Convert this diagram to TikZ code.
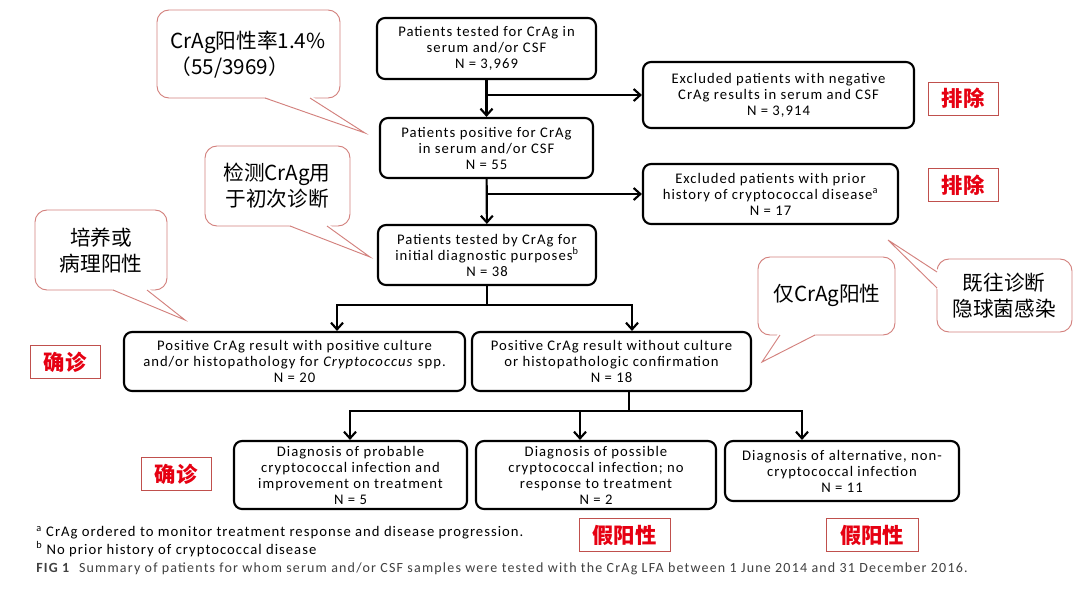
\documentclass[tikz,border=0pt]{standalone}
\usepackage{fontspec}
\setmainfont{Carlito}[LetterSpace=7]
\newfontfamily\cjk{Noto Sans CJK SC}
\usetikzlibrary{positioning, calc, arrows.meta}

\tikzset{
  caixa/.style={draw, line width=1.6pt, rounded corners=6pt, align=center, inner sep=1pt, font=\fontsize{11}{12}\selectfont},
  seta/.style={line width=1.6pt, -{Straight Barb[length=5pt, width=9pt, line width=1.6pt]}},
  linha/.style={line width=1.6pt},
  rotulo/.style={draw=tagborda, line width=0.7pt, text=vermelho, minimum height=33*0.75pt, inner sep=0pt, font=\cjk\bfseries\fontsize{16}{16}\selectfont},
  balao/.style={draw=balaoborda, line width=0.7pt, fill=white, rounded corners=9pt},
  balaotexto/.style={align=center, inner sep=0pt, font=\cjk\fontsize{15.5}{19.5}\selectfont},
  nota/.style={anchor=west, inner sep=0pt, font=\fontsize{11}{12}\selectfont},
}

\begin{document}
\begin{tikzpicture}[x=0.75pt, y=-0.75pt]
% --- CORES E AREA DO DESENHO ---
\definecolor{balaoborda}{HTML}{D3817D}
\definecolor{tagborda}{HTML}{C0504D}
\definecolor{vermelho}{HTML}{E60012}
\definecolor{cinza}{HTML}{404040}
\fill[white] (0,0) rectangle (1080,594);
\useasboundingbox (0,0) rectangle (1080,594);

% LAYER 1: Caixas do fluxograma
\node[caixa, minimum width=219*0.75pt, minimum height=61*0.75pt] (b1) at (486.5,48.5) {Patients tested for CrAg in\\serum and/or CSF\\N = 3,969};
\node[caixa, minimum width=213*0.75pt, minimum height=60*0.75pt] (b2) at (486.5,148) {Patients positive for CrAg\\in serum and/or CSF\\N = 55};
\node[caixa, minimum width=218*0.75pt, minimum height=60*0.75pt] (b3) at (487,255) {Patients tested by CrAg for\\initial diagnostic purposes\textsuperscript{b}\\N = 38};
\node[caixa, minimum width=271*0.75pt, minimum height=66*0.75pt] (e1) at (778.5,95) {Excluded patients with negative\\CrAg results in serum and CSF\\N = 3,914};
\node[caixa, minimum width=255*0.75pt, minimum height=60*0.75pt] (e2) at (770.5,194) {Excluded patients with prior\\history of cryptococcal disease\textsuperscript{a}\\N = 17};
\node[caixa, minimum width=341*0.75pt, minimum height=59*0.75pt] (c1) at (294.5,361.5) {Positive CrAg result with positive culture\\and/or histopathology for \textit{Cryptococcus} spp.\\N = 20};
\node[caixa, minimum width=279*0.75pt, minimum height=59*0.75pt] (c2) at (611.5,361.5) {Positive CrAg result without culture\\or histopathologic confirmation\\N = 18};
\node[caixa, minimum width=233*0.75pt, minimum height=68*0.75pt] (d1) at (350.5,475) {Diagnosis of probable\\cryptococcal infection and\\improvement on treatment\\N = 5};
\node[caixa, minimum width=240*0.75pt, minimum height=68*0.75pt] (d2) at (596,475) {Diagnosis of possible\\cryptococcal infection; no\\response to treatment\\N = 2};
\node[caixa, minimum width=234*0.75pt, minimum height=60*0.75pt] (d3) at (842,471) {Diagnosis of alternative, non-\\cryptococcal infection\\N = 11};

% LAYER 2: Setas
\draw[seta] (b1) -- (b2);
\draw[seta] (b1.south |- e1.west) -- (e1.west);
\draw[seta] (b2) -- (b3);
\draw[seta] (b2.south |- e2.west) -- (e2.west);
% ramo para c1 e c2
\coordinate (s1) at (487,305);
\draw[linha] (b3.south) -- (s1);
\draw[seta] (s1) -| (c1.north -| 337,0);
\draw[seta] (s1) -| (c2.north -| 632,0);
% ramo para d1, d2 e d3
\coordinate (s2) at (629,411);
\draw[linha] (c2.south -| s2) -- (s2);
\draw[seta] (s2) -| (d1.north -| 350,0);
\draw[seta] (s2) -| (d2.north -| 580,0);
\draw[seta] (s2) -| (d3.north -| 802,0);

% LAYER 3: Rotulos vermelhos
\node[rotulo, minimum width=70*0.75pt] (t1) at (963,98.5) {排除};
\node[rotulo, minimum width=70*0.75pt] (t2) at (963,185) {排除};
\node[rotulo, minimum width=70*0.75pt] (t3) at (65,362) {确诊};
\node[rotulo, minimum width=70*0.75pt] (t4) at (176,474) {确诊};
\node[rotulo, minimum width=91*0.75pt] (t5) at (624.5,535) {假阳性};
\node[rotulo, minimum width=92*0.75pt] (t6) at (872,535) {假阳性};

% LAYER 4: Baloes de comentario
\draw[balao] (157,10) rectangle (340,98);
\fill[white] (263,96.5) -- (365,133) -- (312,96.5) -- cycle;
\draw[draw=balaoborda, line width=0.7pt] (265,98) -- (365,133) -- (310,98);
\node[balaotexto, align=left] (n1) at (248,55) {CrAg阳性率1.4\%\\（55/3969）};

\draw[balao] (205,146) rectangle (350,226);
\fill[white] (288,224.5) -- (370,257) -- (329,224.5) -- cycle;
\draw[draw=balaoborda, line width=0.7pt] (290,226) -- (370,257) -- (327,226);
\node[balaotexto] (n2) at (277,186) {检测CrAg用\\于初次诊断};

\draw[balao] (35,210) rectangle (167,290);
\fill[white] (111,288.5) -- (185,320) -- (149,288.5) -- cycle;
\draw[draw=balaoborda, line width=0.7pt] (113,290) -- (185,320) -- (147,290);
\node[balaotexto] (n3) at (101,251) {培养或\\病理阳性};

\draw[balao] (758,257) rectangle (895,335);
\fill[white] (778,333.5) -- (762,362) -- (817,333.5) -- cycle;
\draw[draw=balaoborda, line width=0.7pt] (780,335) -- (762,362) -- (815,335);
\node[balaotexto] (n4) at (827,295) {仅CrAg阳性};

\draw[balao] (937,259) rectangle (1072,332);
\fill[white] (938.5,270) -- (888,240) -- (938.5,290) -- cycle;
\draw[draw=balaoborda, line width=0.7pt] (937,272) -- (888,240) -- (937,288);
\node[balaotexto] (n5) at (1004,296) {既往诊断\\隐球菌感染};

% LAYER 5: Notas de rodape
\node[nota] (f1) at (36,533) {\textsuperscript{a} CrAg ordered to monitor treatment response and disease progression.};
\node[nota] (f2) at (36,549) {\textsuperscript{b} No prior history of cryptococcal disease};
\node[nota, text=cinza, font=\fontsize{10.5}{12}\selectfont] (f3) at (36,569) {\addfontfeature{LetterSpace=8.5}\textbf{FIG 1}\ \ Summary of patients for whom serum and/or CSF samples were tested with the CrAg LFA between 1 June 2014 and 31 December 2016.};
\end{tikzpicture}
\end{document}
